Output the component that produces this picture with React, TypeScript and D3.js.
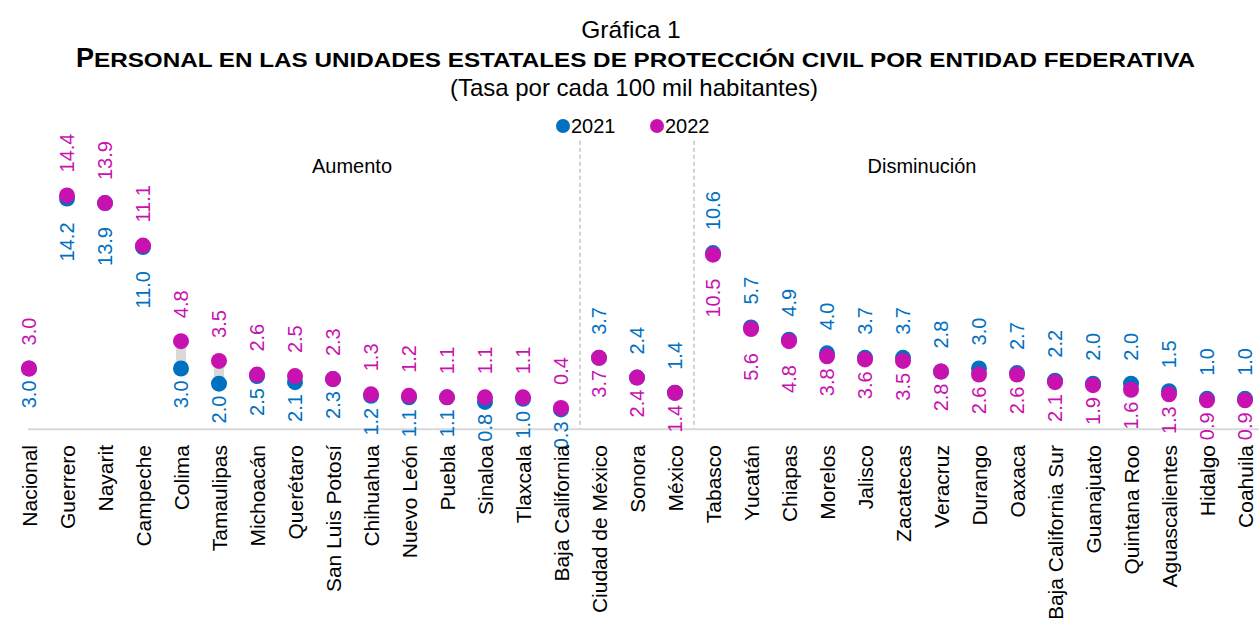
import React from 'react'
import * as d3 from 'd3'

const categories = [
	'Nacional', 'Guerrero', 'Nayarit', 'Campeche', 'Colima', 'Tamaulipas', 'Michoacán', 'Querétaro',
	'San Luis Potosí', 'Chihuahua', 'Nuevo León', 'Puebla', 'Sinaloa', 'Tlaxcala', 'Baja California',
	'Ciudad de México', 'Sonora', 'México',
	'Tabasco', 'Yucatán', 'Chiapas', 'Morelos', 'Jalisco', 'Zacatecas', 'Veracruz', 'Durango', 'Oaxaca',
	'Baja California Sur', 'Guanajuato', 'Quintana Roo', 'Aguascalientes', 'Hidalgo', 'Coahuila',
]

const values2021 = [
	3.0, 14.2, 13.9, 11.0, 3.0, 2.0, 2.5, 2.1, 2.3, 1.2, 1.1, 1.1, 0.8, 1.0, 0.3,
	3.7, 2.4, 1.4,
	10.6, 5.7, 4.9, 4.0, 3.7, 3.7, 2.8, 3.0, 2.7, 2.2, 2.0, 2.0, 1.5, 1.0, 1.0,
]

const values2022 = [
	3.0, 14.4, 13.9, 11.1, 4.8, 3.5, 2.6, 2.5, 2.3, 1.3, 1.2, 1.1, 1.1, 1.1, 0.4,
	3.7, 2.4, 1.4,
	10.5, 5.6, 4.8, 3.8, 3.6, 3.5, 2.8, 2.6, 2.6, 2.1, 1.9, 1.6, 1.3, 0.9, 0.9,
]

const seriesNames = ['2021', '2022']
// first category of each section after the first one
const sectionStarts = ['Ciudad de México', 'Tabasco']
const sectionLabels = ['Aumento', 'Disminución']
const sectionLabelAt = ['Chihuahua', 'Veracruz']

const BLUE = '#0070C0'
const PINK = '#C712B0'
const FONT = 'Arial, "Liberation Sans", sans-serif'

export default function App() {
	const width = 1259
	const height = 618

	const x = d3.scaleBand().domain(categories).range([10, 10 + categories.length * 38]).padding(0)
	const y = d3.scaleLinear().domain([-1, 18]).range([429.2, 140.8])
	const bw = x.bandwidth()
	const cx = (c: string) => (x(c) as number) + bw / 2

	const firstDown = categories.indexOf(sectionStarts[0])

	const labels: { cx: number; y: number; text: string; color: string; anchor: string }[] = []
	categories.forEach((c, i) => {
		const a = values2021[i]
		const b = values2022[i]
		const gap = (v: number) => (v > 4.5 ? 24 : 12)
		if (i < firstDown) {
			labels.push({ cx: cx(c), y: y(b) - 23, text: b.toFixed(1), color: PINK, anchor: 'start' })
			labels.push({ cx: cx(c), y: y(a) + gap(a), text: a.toFixed(1), color: BLUE, anchor: 'end' })
		} else {
			labels.push({ cx: cx(c), y: y(a) - 23, text: a.toFixed(1), color: BLUE, anchor: 'start' })
			labels.push({ cx: cx(c), y: y(b) + gap(b), text: b.toFixed(1), color: PINK, anchor: 'end' })
		}
	})

	return (
		<svg
			width={width}
			height={height}
			style={{ position: 'absolute', left: 0, top: 0, background: '#fff' }}
			fontFamily={FONT}
		>
			<text x={631} y={38} textAnchor="middle" fontSize={24.5}>
				Gráfica 1
			</text>
			<text x={76} y={67} fontWeight="bold">
				<tspan fontSize={27}>P</tspan>
				<tspan fontSize={19.5} textLength={1101} lengthAdjust="spacingAndGlyphs">
					ERSONAL EN LAS UNIDADES ESTATALES DE PROTECCIÓN CIVIL POR ENTIDAD FEDERATIVA
				</tspan>
			</text>
			<text x={634} y={96} textAnchor="middle" fontSize={24}>
				(Tasa por cada 100 mil habitantes)
			</text>

			{/* legend */}
			<g fontSize={20}>
				<circle cx={563} cy={126} r={7} fill={BLUE} />
				<text x={571} y={133}>{seriesNames[0]}</text>
				<circle cx={657} cy={126} r={7} fill={PINK} />
				<text x={665} y={133}>{seriesNames[1]}</text>
			</g>

			{/* section separators */}
			{sectionStarts.map((s) => (
				<line
					key={s}
					x1={x(s)}
					x2={x(s)}
					y1={y(18)}
					y2={y(-1)}
					stroke="#A6A6A6"
					strokeWidth={1}
					strokeDasharray="4 3"
				/>
			))}
			{sectionLabels.map((s, i) => (
				<text key={s} x={x(sectionLabelAt[i])} y={173} textAnchor="middle" fontSize={20}>
					{s}
				</text>
			))}

			{/* axis line */}
			<line x1={cx(categories[0]) - 1} x2={width} y1={y(-1)} y2={y(-1)} stroke="#D9D9D9" strokeWidth={2} />

			{/* connectors */}
			{categories.map((c, i) => (
				<line
					key={'l' + c}
					x1={cx(c)}
					x2={cx(c)}
					y1={y(values2021[i])}
					y2={y(values2022[i])}
					stroke="#D9D9D9"
					strokeWidth={10}
				/>
			))}
			{categories.map((c, i) => (
				<circle key={'a' + c} cx={cx(c)} cy={y(values2021[i])} r={8} fill={BLUE} />
			))}
			{categories.map((c, i) => (
				<circle key={'b' + c} cx={cx(c)} cy={y(values2022[i])} r={8} fill={PINK} />
			))}

			{/* data labels */}
			{labels.map((l, i) => (
				<text
					key={'t' + i}
					transform={`translate(${l.cx},${l.y}) rotate(-90)`}
					dy="0.36em"
					textAnchor={l.anchor}
					fontSize={20}
					fill={l.color}
				>
					{l.text}
				</text>
			))}

			{/* category labels */}
			{categories.map((c) => (
				<text
					key={'c' + c}
					transform={`translate(${cx(c)},445) rotate(-90)`}
					dy="0.36em"
					textAnchor="end"
					fontSize={21}
				>
					{c}
				</text>
			))}
		</svg>
	)
}
